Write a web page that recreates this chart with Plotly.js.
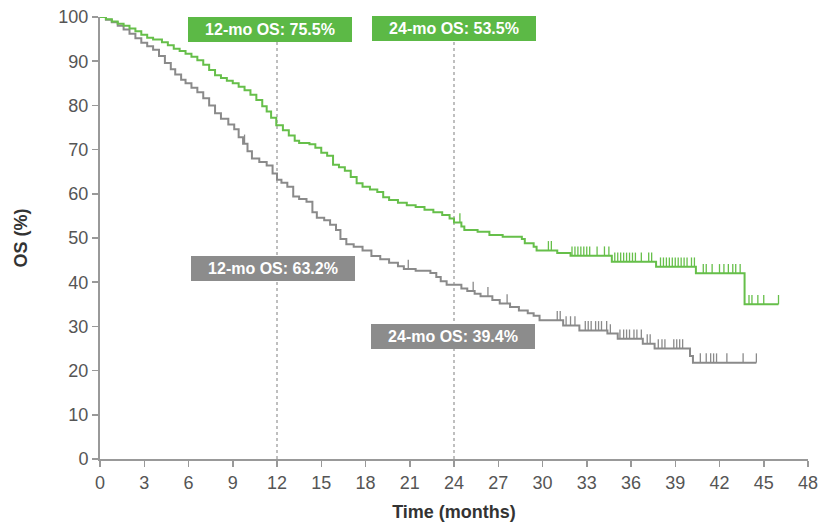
<!DOCTYPE html>
<html>
<head>
<meta charset="utf-8">
<script src="https://cdn.plot.ly/plotly-3.0.1.min.js"></script>
<style>html,body{margin:0;padding:0;background:#fff;}#chart{width:821px;height:524px;}</style>
</head>
<body>
<div id="chart"></div>
<script>
// Green arm (upper curve): KM step points
const greenTime = [0,0.4,0.8,1.2,1.6,2.0,2.4,2.8,3.2,3.6,4.2,4.6,5.0,5.4,5.8,6.2,6.6,7.0,7.4,7.8,8.2,8.6,9.0,9.4,9.8,10.2,10.6,11.0,11.3,11.6,11.95,12.4,12.8,13.2,13.5,14.2,14.6,15.0,15.4,15.8,16.2,16.6,17.0,17.4,17.8,18.3,18.8,19.2,19.6,20.2,20.8,21.4,22.0,22.6,23.2,23.7,24.0,24.5,24.7,25.6,26.4,27.3,28.6,28.8,29.4,29.6,31.0,31.9,34.7,37.7,40.4,43.7,46.0];
const greenSurv = [100,99.5,99,98.5,98,97.4,96.8,96.0,95.3,94.9,94.3,93.6,92.8,92.3,91.7,91.0,90.2,89.2,88.0,86.8,86.2,85.6,85.0,84.2,83.4,82.4,81.2,79.8,78.6,77.2,75.5,74.4,73.2,72.0,71.5,71.2,70.4,69.3,68.6,66.6,66.0,65.2,63.8,62.4,61.6,61.0,60.4,59.2,58.6,58.0,57.4,57.0,56.4,55.8,55.2,54.4,53.5,52.6,51.8,51.4,50.7,50.3,49.8,48.8,48.0,47.2,46.6,46.0,44.6,43.5,42.0,35.0,35.0];
const greenCensor = [24.4,30.4,30.6,32.0,32.2,32.4,32.6,32.8,33.0,33.2,33.7,34.2,34.5,34.9,35.1,35.3,35.5,35.7,35.9,36.1,36.3,36.7,37.2,37.4,38.0,38.2,38.4,38.6,38.8,39.0,39.2,39.4,39.6,39.8,40.1,40.3,40.9,41.1,41.5,42.0,42.3,42.6,42.9,43.1,43.4,44.0,44.2,44.6,45.0,46.0];

// Gray arm (lower curve)
const grayTime = [0,0.4,0.8,1.2,1.6,2.0,2.4,2.8,3.2,3.6,4.0,4.4,4.8,5.1,5.5,5.8,6.2,6.6,7.0,7.4,7.8,8.2,8.7,9.1,9.4,9.7,10.0,10.3,10.8,11.3,11.7,12.0,12.3,12.7,13.1,13.5,14.0,14.4,14.7,15.2,15.6,16.0,16.3,16.7,17.2,17.8,18.4,19.0,19.6,20.2,20.6,21.4,22.4,22.8,23.1,23.5,24.5,24.9,25.4,25.8,26.6,27.1,27.8,28.4,29.0,29.4,29.8,31.4,32.5,34.4,35.1,36.8,37.6,40.0,40.2,44.5];
const graySurv = [100,99.4,98.8,98.0,97.2,96.2,95.2,94.2,93.4,92.6,91.2,89.6,88.2,87.0,85.8,85.0,84.0,83.0,81.6,80.0,78.2,77.0,75.7,74.6,72.8,71.3,69.6,68.0,67.2,66.4,64.6,63.2,62.5,61.6,59.4,58.8,58.2,55.8,54.6,54.0,53.0,51.8,49.8,48.6,48.0,47.2,45.9,45.2,44.4,43.6,43.0,42.6,42.1,41.2,40.2,39.4,38.6,38.0,37.4,36.8,36.0,35.2,34.4,33.6,33.0,32.4,31.4,30.2,29.1,28.4,27.2,26.1,25.0,23.3,21.8,21.8];
const grayCensor = [9.8,20.9,25.3,26.3,27.6,31.0,31.2,31.6,31.9,32.2,32.9,33.1,33.3,33.6,33.8,34.0,34.35,34.6,35.25,35.5,35.7,35.9,36.2,36.4,36.7,37.1,37.3,37.85,38.1,38.3,38.9,39.1,39.3,39.5,40.7,41.1,41.4,41.6,41.8,42.5,43.6,44.5];

const xTicks = [0,3,6,9,12,15,18,21,24,27,30,33,36,39,42,45,48];
const yTicks = [0,10,20,30,40,50,60,70,80,90,100];
const landmarkMonths = [12, 24];
const labelTexts = ['12-mo OS: 75.5%','24-mo OS: 53.5%','12-mo OS: 63.2%','24-mo OS: 39.4%'];

const GREEN = '#66bf4a';
const GREEN_BOX = '#5cb946';
const GRAY = '#8a8a8a';
const GRAY_BOX = '#8c8c8c';
const FONT = 'Liberation Sans, Arial, sans-serif';

function lookup(times, surv, t) {
  let v = surv[0];
  for (let i = 0; i < times.length; i++) { if (times[i] <= t) v = surv[i]; }
  return v;
}

const traces = [
  {x: grayTime, y: graySurv, mode: 'lines', line: {shape: 'hv', color: GRAY, width: 2}, cliponaxis: false, hoverinfo: 'skip'},
  {x: grayCensor, y: grayCensor.map(t => lookup(grayTime, graySurv, t)), mode: 'markers', marker: {size: 1, color: 'rgba(0,0,0,0)'},
   error_y: {type: 'constant', value: 2.1, valueminus: 0, symmetric: false, width: 0, color: GRAY, thickness: 1.3}, hoverinfo: 'skip'},
  {x: greenTime, y: greenSurv, mode: 'lines', line: {shape: 'hv', color: GREEN, width: 2}, cliponaxis: false, hoverinfo: 'skip'},
  {x: greenCensor, y: greenCensor.map(t => lookup(greenTime, greenSurv, t)), mode: 'markers', marker: {size: 1, color: 'rgba(0,0,0,0)'},
   error_y: {type: 'constant', value: 2.1, valueminus: 0, symmetric: false, width: 0, color: GREEN, thickness: 1.3}, hoverinfo: 'skip'}
];

const shapes = landmarkMonths.map(m => ({
  type: 'line', xref: 'x', yref: 'y', x0: m, x1: m, y0: 0, y1: 95,
  line: {color: '#aaaaaa', width: 1.5, dash: 'dot'}, layer: 'below'
}));

function box(text, x, y, bg) {
  return {text: '<b>' + text + '</b>', x: x, y: y, xref: 'x', yref: 'y', showarrow: false,
    bgcolor: bg, bordercolor: bg, borderwidth: 1, borderpad: 3, width: 156,
    font: {family: FONT, size: 16, color: '#ffffff'}};
}

const annotations = [
  box(labelTexts[0], 11.5, 97.1, GREEN_BOX),
  box(labelTexts[1], 24.0, 97.3, GREEN_BOX),
  box(labelTexts[2], 11.7, 43.0, GRAY_BOX),
  box(labelTexts[3], 23.9, 27.8, GRAY_BOX)
];

const axisCommon = {
  showgrid: false, zeroline: false, showline: true, linecolor: '#999999', linewidth: 2,
  ticks: 'outside', ticklen: 6, tickwidth: 1.5, tickcolor: '#999999',
  tickfont: {family: FONT, size: 18, color: '#555555'}
};

const layout = {
  width: 821, height: 524,
  margin: {l: 100, r: 13, t: 17, b: 65},
  paper_bgcolor: '#ffffff', plot_bgcolor: '#ffffff',
  showlegend: false,
  xaxis: Object.assign({}, axisCommon, {range: [0, 48], tickvals: xTicks, ticktext: xTicks.map(String),
    title: {text: '<b>Time (months)</b>', standoff: 14, font: {family: FONT, size: 18, color: '#333333'}}}),
  yaxis: Object.assign({}, axisCommon, {range: [0, 100], tickvals: yTicks, ticktext: yTicks.map(String),
    title: {text: '<b>OS (%)</b>', standoff: 26, font: {family: FONT, size: 18, color: '#333333'}}}),
  shapes: shapes,
  annotations: annotations
};

Plotly.newPlot('chart', traces, layout, {displayModeBar: false, staticPlot: true});
</script>
</body>
</html>
